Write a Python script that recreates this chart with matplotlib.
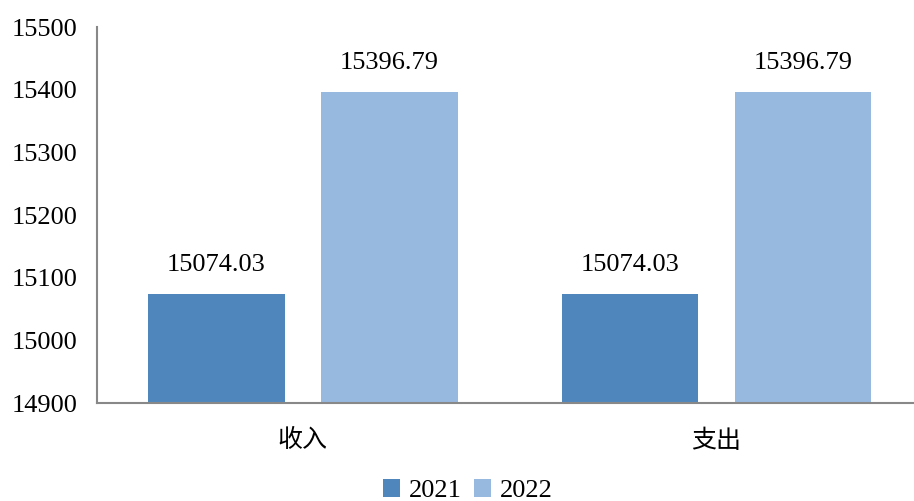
import numpy as np
import matplotlib.pyplot as plt

plt.rcParams['font.family'] = ['Liberation Serif', 'Noto Sans CJK SC']

categories = ['收入', '支出']
series_names = ['2021', '2022']
values_2021 = [15074.03, 15074.03]
values_2022 = [15396.79, 15396.79]
yticks = [14900, 15000, 15100, 15200, 15300, 15400, 15500]

colors = ['#4F87BD', '#98B9DF']

fig = plt.figure(figsize=(9.14, 5.01), dpi=100)
ax = fig.add_axes([97 / 914, 1 - 403 / 501, 1 - 97 / 914, (403 - 27) / 501])

x = np.arange(len(categories))
w = 0.33
off = 0.209
b1 = ax.bar(x - off, values_2021, w, color=colors[0], label=series_names[0])
b2 = ax.bar(x + off, values_2022, w, color=colors[1], label=series_names[1])

for bars, vals in [(b1, values_2021), (b2, values_2022)]:
    for r, v in zip(bars, vals):
        ax.text(r.get_x() + r.get_width() / 2, v + 28, '%.2f' % v,
                ha='center', va='bottom', fontsize=19)

ax.set_xlim(-0.498, 1.478)
ax.set_ylim(14900, 15500)
ax.set_yticks(yticks)
ax.set_yticklabels([str(t) for t in yticks], fontsize=19)
ax.set_xticks(x)
ax.set_xticklabels(categories, fontsize=18)
ax.tick_params(length=0)
ax.tick_params(axis='y', pad=14)
ax.tick_params(axis='x', pad=19)

for s in ['top', 'right']:
    ax.spines[s].set_visible(False)
for s in ['left', 'bottom']:
    ax.spines[s].set_color('#888888')
    ax.spines[s].set_linewidth(1.5)

fig.legend(loc='lower center', bbox_to_anchor=(0.512, -0.05), ncol=2,
           frameon=False, fontsize=19, handlelength=0.65, handleheight=0.65,
           handletextpad=0.35, columnspacing=0.45)

plt.savefig('out.png', dpi=100)
